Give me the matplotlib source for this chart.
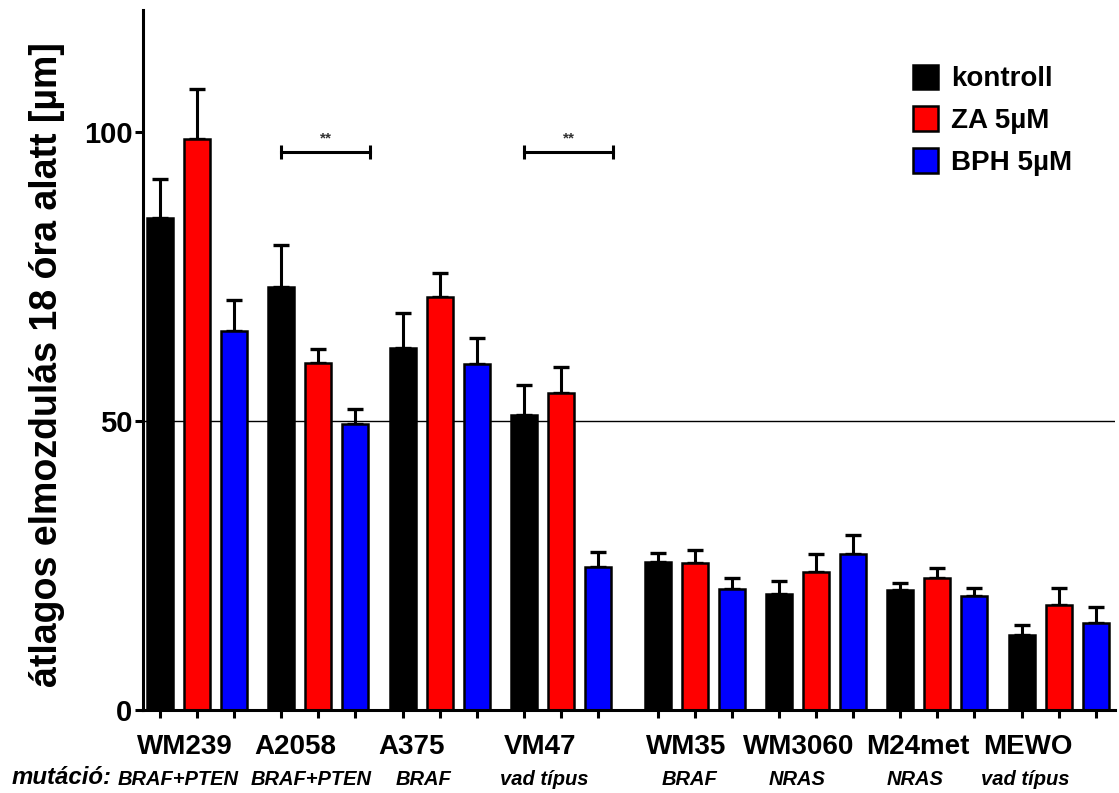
import numpy as np
import matplotlib
matplotlib.use('Agg')
from matplotlib import pyplot as plt

# Data
cell_lines = ['WM239', 'A2058', 'A375', 'VM47', 'WM35', 'WM3060', 'M24met', 'MEWO']
mutations = ['BRAF+PTEN', 'BRAF+PTEN', 'BRAF', 'vad típus', 'BRAF', 'NRAS', 'NRAS', 'vad típus']
series = ['kontroll', 'ZA 5µM', 'BPH 5µM']

kontroll = [85.1, 73.1, 62.6, 51.1, 25.6, 20.1, 20.8, 13.0]
kontroll_err = [6.8, 7.3, 6.0, 5.2, 1.6, 2.3, 1.2, 1.7]
za = [98.8, 60.1, 71.4, 54.9, 25.5, 23.9, 22.9, 18.2]
za_err = [8.7, 2.3, 4.2, 4.5, 2.1, 3.1, 1.7, 2.9]
bph = [65.5, 49.4, 59.8, 24.8, 21.0, 27.0, 19.8, 15.1]
bph_err = [5.4, 2.6, 4.5, 2.6, 1.9, 3.2, 1.3, 2.8]

sig_groups = [1, 3]   # A2058, VM47
sig_level = 96.5

colors = ['black', '#ff0000', '#0000ff']

plt.rcParams['font.family'] = ['Liberation Sans', 'DejaVu Sans']
plt.rcParams['font.weight'] = 'bold'

fig = plt.figure(figsize=(11.19, 7.93), dpi=100)
ax = fig.add_axes([143 / 1119, 1 - 710 / 793, 972 / 1119, 700 / 793])

idx = np.arange(len(cell_lines))
centers = idx * 3.28 + np.where(idx >= 4, 0.33, 0.0)

ax.axhline(50, color='black', lw=1, zorder=0)

all_vals = [kontroll, za, bph]
all_errs = [kontroll_err, za_err, bph_err]
tick_pos = []
for k in range(3):
    x = centers + (k - 1)
    tick_pos.extend(x)
    ax.bar(x, all_vals[k], width=0.7, color=colors[k], edgecolor='black',
           linewidth=1.8, label=series[k], zorder=2)
    ax.errorbar(x, all_vals[k], yerr=[np.zeros(len(x)), all_errs[k]], fmt='none',
                ecolor='black', elinewidth=2.2, capsize=5.5, capthick=2.4, zorder=1)

# significance brackets
for g in sig_groups:
    x0 = centers[g] - 1
    x1 = centers[g] + 1.4
    ax.plot([x0, x1], [sig_level, sig_level], color='black', lw=2.2,
            marker='|', markersize=10, markeredgewidth=2.2)
    ax.text((x0 + x1) / 2, sig_level + 1.2, '**', ha='center', va='bottom',
            fontsize=11, color='#333333')

ax.set_xlim(-1.46, 24.81)
ax.set_ylim(0, 121.1)
ax.set_yticks([0, 50, 100])
ax.set_xticks(sorted(tick_pos))
ax.set_xticklabels([])
ax.tick_params(axis='y', length=6, width=2.2, pad=1.5, labelsize=21)
ax.tick_params(axis='x', length=6, width=2.2)
for lab in ax.get_yticklabels():
    lab.set_fontweight('bold')

ax.spines['top'].set_visible(False)
ax.spines['right'].set_visible(False)
ax.spines['left'].set_linewidth(2.2)
ax.spines['bottom'].set_linewidth(2.2)

# group names and mutations (labels sit a little left of the group centres)
name_shift = [-0.32, -0.62, -0.76, -0.57, -0.22, -0.46, -0.54, -0.84]
mut_shift = [-0.5, -0.2, -0.45, -0.45, -0.15, -0.5, -0.6, -0.9]
for i, c in enumerate(centers):
    ax.text(c + name_shift[i], -0.053, cell_lines[i], transform=ax.get_xaxis_transform(),
            ha='center', va='center', fontsize=20, fontweight='bold')
    ax.text(c + mut_shift[i], -0.099, mutations[i], transform=ax.get_xaxis_transform(),
            ha='center', va='center', fontsize=14.5, fontweight='bold', style='italic')
fig.text(12 / 1119, 1 - 778 / 793, 'mutáció:', ha='left', va='center',
         fontsize=17.3, fontweight='bold', style='italic')

fig.text(47 / 1119, 1 - 365 / 793, 'átlagos elmozdulás 18 óra alatt [µm]',
         rotation=90, ha='center', va='center', fontsize=27, fontweight='bold')

ax.legend(loc='upper left', bbox_to_anchor=(0.781, 0.938), frameon=False,
          handlelength=0.9, handleheight=1.0, labelspacing=0.5,
          handletextpad=0.45, borderaxespad=0, prop={'weight': 'bold', 'size': 20})

fig.savefig('out.png', dpi=100)
